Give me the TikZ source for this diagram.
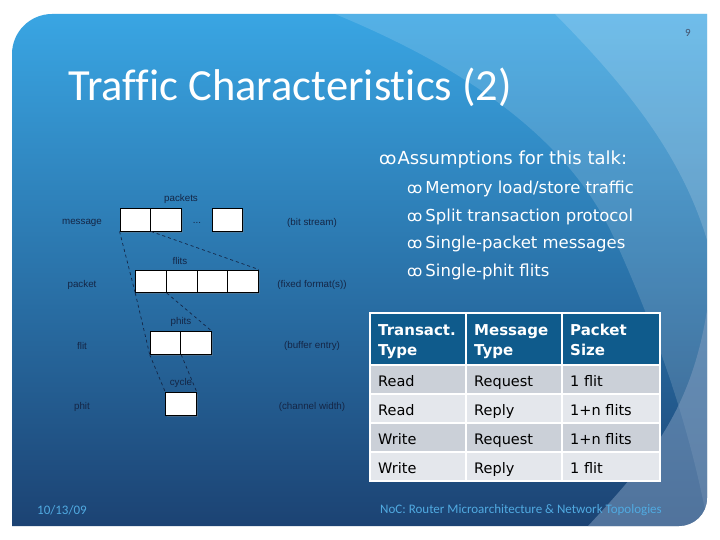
\documentclass[tikz,border=0pt]{standalone}
\usepackage{fontspec}
\setmainfont{DejaVu Sans}
\newfontfamily\titlefont[Ligatures=NoCommon]{Carlito}
\newfontfamily\diagfont{Liberation Sans}
\usetikzlibrary{positioning,shadows}
\definecolor{slidetop}{RGB}{58,168,230}
\definecolor{slidemid}{RGB}{38,118,188}
\definecolor{slidebot}{RGB}{27,64,112}
\definecolor{navy}{RGB}{20,38,70}
\definecolor{headblue}{RGB}{15,91,140}
\definecolor{rowA}{RGB}{203,208,216}
\definecolor{rowB}{RGB}{228,231,236}
\definecolor{footblue}{RGB}{80,170,225}
\definecolor{swoosh}{RGB}{125,155,190}
\newcommand{\bul}[1]{{\fontsize{#1}{#1}\selectfont ꝏ}}
\tikzset{
  cell/.style={draw=black,fill=white,line width=.8pt,minimum width=30.7pt,minimum height=22.7pt,
    inner sep=0pt,drop shadow={opacity=.35,shadow xshift=1.5pt,shadow yshift=-1.5pt}},
  lbl/.style={font=\diagfont\fontsize{9.8}{11}\selectfont,text=navy,inner sep=1pt},
  link/.style={dashed,navy,line width=.7pt},
  bull/.style={text=white,anchor=west,inner sep=0pt},
  tab/.style={anchor=base west,inner sep=0pt,font=\fontsize{14.5}{22}\selectfont},
  head/.style={anchor=west,inner sep=0pt,text=white,align=left,font=\bfseries\fontsize{15}{20}\selectfont},
  foot/.style={anchor=west,inner sep=0pt,text=footblue,font=\titlefont\fontsize{13}{15}\selectfont}
}
\begin{document}
\begin{tikzpicture}[x=1pt,y=-1pt]
  \useasboundingbox (0,0) rectangle (720,540);
  \fill[white] (0,0) rectangle (720,540);
  % slide background
  \begin{scope}
    \clip (12,526) -- (12,54) .. controls (12,32) and (30,14) .. (52,14) -- (707,14)
      -- (707,498) .. controls (707,514) and (694,526) .. (679,526) -- cycle;
    \shade[top color=slidetop,middle color=slidemid,bottom color=slidebot] (0,0) rectangle (720,540);
    \fill[white,opacity=.14] (335,14) .. controls (470,70) and (570,140) .. (615,240)
      .. controls (660,340) and (690,430) .. (707,520) -- (720,0) -- cycle;
    \fill[white,opacity=.16] (555,14) .. controls (620,80) and (680,150) .. (707,240) -- (720,0) -- cycle;
    \fill[swoosh,opacity=.55] (575,540) .. controls (640,470) and (690,420) .. (707,310) -- (720,540) -- cycle;
  \end{scope}
  % title
  \node[anchor=base west,inner sep=0pt,text=white,font=\titlefont\fontsize{44.5}{50}\selectfont]
    (title) at (68,101) {Traffic Characteristics (2)};
  \node[font=\titlefont\fontsize{11}{12}\selectfont,text=navy!80] (pnum) at (688,33) {9};
  % bullets
  \node[bull,font=\fontsize{18}{20}\selectfont] (b0) at (379,160) {\bul{17}\hspace{1pt}Assumptions for this talk:};
  \foreach \t [count=\i] in {Memory load/store traffic,Split transaction protocol,
      Single-packet messages,Single-phit flits}
    \node[bull,font=\fontsize{16.5}{18}\selectfont] (b\i) at (407,161.5+27.5*\i) {\bul{15}\hspace{3pt}\t};
  % layers diagram
  \node[cell] (m1) at (135.3,219.7) {};
  \node[cell,right=-.8pt of m1] (m2) {};
  \node[cell] (m3) at (227.3,219.7) {};
  \node[lbl] (dots) at (197,223) {...};
  \node[cell] (p1) at (151,281.3) {};
  \node[cell,right=-.8pt of p1] (p2) {};
  \node[cell,right=-.8pt of p2] (p3) {};
  \node[cell,right=-.8pt of p3] (p4) {};
  \node[cell] (f1) at (165.5,343) {};
  \node[cell,right=-.8pt of f1] (f2) {};
  \node[cell] (h1) at (181,403.7) {};
  \node[lbl] (packets) at (181,199) {packets};
  \node[lbl] (flits) at (180,261) {flits};
  \node[lbl] (phits) at (181,322) {phits};
  \node[lbl] (cycle) at (181,383) {cycle};
  \node[lbl] (message) at (82,223) {message};
  \node[lbl] (packet) at (82,285) {packet};
  \node[lbl] (flit) at (82,346) {flit};
  \node[lbl] (phit) at (82,407) {phit};
  \node[lbl] (bits) at (312,223) {(bit stream)};
  \node[lbl] (fixed) at (312,285) {(fixed format(s))};
  \node[lbl] (buffer) at (312,346) {(buffer entry)};
  \node[lbl] (channel) at (312,407) {(channel width)};
  \draw[link] (m1.south west) -- (p1.south west);
  \draw[link] (m1.south east) -- (p4.north east);
  \draw[link] (p1.south west) -- (f1.south west);
  \draw[link] (p1.south east) -- (f2.north east);
  \draw[link] (f1.south west) -- (h1.north west);
  \draw[link] (f1.south east) -- (h1.north east);
  % table
  \fill[headblue] (370,313) rectangle (660,365);
  \node[head] (hA) at (378,341) {Transact.\strut\\Type\strut};
  \node[head] (hB) at (474,341) {Message\strut\\Type\strut};
  \node[head] (hC) at (570,341) {Packet\strut\\Size\strut};
  \foreach \c/\a/\b/\s [count=\i] in {rowA/Read/Request/1 flit,rowB/Read/Reply/1+n flits,
      rowA/Write/Request/1+n flits,rowB/Write/Reply/1 flit} {
    \fill[\c] (370,{336+29*\i}) rectangle (660,{365+29*\i});
    \node[tab] (r\i a) at (378,{357+29*\i}) {\a};
    \node[tab] (r\i b) at (474,{357+29*\i}) {\b};
    \node[tab] (r\i c) at (570,{357+29*\i}) {\s};
  }
  \draw[white,line width=2pt] (370,313) rectangle (660,481);
  \foreach \x in {466,562} \draw[white,line width=2pt] (\x,313) -- (\x,481);
  \foreach \y in {365,394,423,452} \draw[white,line width=2pt] (370,\y) -- (660,\y);
  % footer
  \node[foot] (date) at (37,510) {10/13/09};
  \node[foot] (talk) at (380,510) {NoC: Router Microarchitecture \& Network Topologies};
\end{tikzpicture}
\end{document}
